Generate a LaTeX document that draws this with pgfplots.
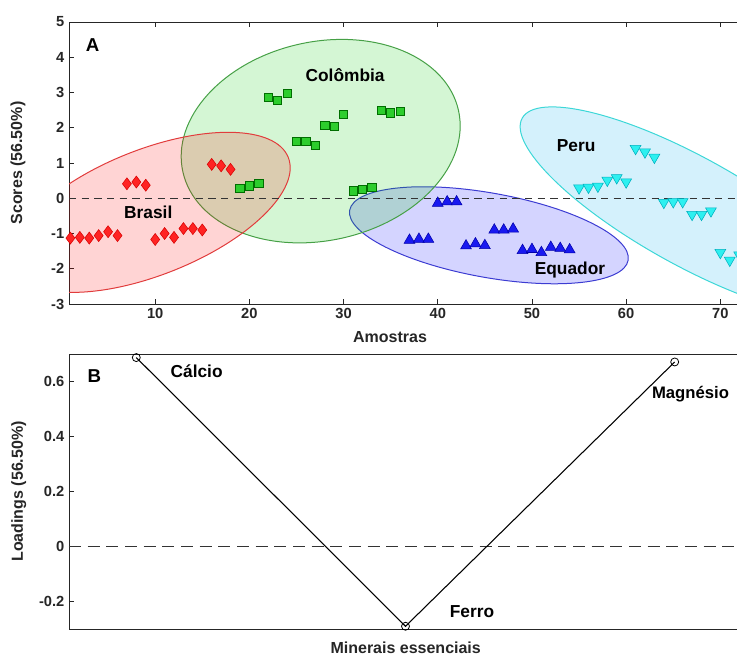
\documentclass[border=0pt]{standalone}
\usepackage{pgfplots}
\usepackage{pgfplotstable}
\pgfplotsset{compat=1.18}
\usepackage{fontspec}
\setmainfont{Liberation Sans}

\definecolor{axgray}{RGB}{38,38,38}
\definecolor{rF}{RGB}{255,35,35}\definecolor{rE}{RGB}{215,0,0}
\definecolor{gF}{RGB}{45,205,45}\definecolor{gE}{RGB}{0,110,0}
\definecolor{bF}{RGB}{25,25,240}\definecolor{bE}{RGB}{0,0,170}
\definecolor{cF}{RGB}{45,240,240}\definecolor{cE}{RGB}{0,175,190}
\definecolor{rEl}{RGB}{225,60,60}
\definecolor{gEl}{RGB}{70,160,70}
\definecolor{bEl}{RGB}{60,60,210}
\definecolor{cEl}{RGB}{60,215,215}
\definecolor{gFill}{RGB}{0,200,0}

\pgfplotstableread{
x y
1 -1.13
2 -1.11
3 -1.13
4 -1.06
5 -0.95
6 -1.06
7 0.41
8 0.46
9 0.37
10 -1.17
11 -1.00
12 -1.11
13 -0.86
14 -0.86
15 -0.90
16 0.96
17 0.92
18 0.82
}\brasil

\pgfplotstableread{
x y
19 0.28
20 0.35
21 0.43
22 2.87
23 2.78
24 2.97
25 1.61
26 1.61
27 1.51
28 2.06
29 2.03
30 2.39
31 0.21
32 0.25
33 0.31
34 2.49
35 2.42
36 2.46
}\colombia

\pgfplotstableread{
x y
37 -1.19
38 -1.16
39 -1.16
40 -0.14
41 -0.10
42 -0.10
43 -1.35
44 -1.29
45 -1.34
46 -0.90
47 -0.90
48 -0.87
49 -1.48
50 -1.45
51 -1.54
52 -1.39
53 -1.42
54 -1.46
}\equador

\pgfplotstableread{
x y
55 0.29
56 0.31
57 0.34
58 0.51
59 0.58
60 0.46
61 1.41
62 1.31
63 1.16
64 -0.12
65 -0.10
66 -0.10
67 -0.46
68 -0.46
69 -0.36
70 -1.54
71 -1.76
72 -1.61
}\peru

\pgfplotstableread{
x y
1 0.687
2 -0.290
3 0.671
}\loadings

\pgfplotsset{
  myaxis/.style={
    scale only axis,
    width=504.75pt,
    tick align=inside,
    tick pos=both,
    major tick length=4pt,
    axis line style={axgray, line width=0.6pt},
    every tick/.style={axgray, line width=0.6pt},
    tick label style={font=\bfseries\fontsize{11}{11}\selectfont, text=axgray},
    label style={font=\bfseries\fontsize{12}{12}\selectfont, text=axgray},
  }
}

\begin{document}
\begin{tikzpicture}
% ---------------- Panel A ----------------
\begin{axis}[myaxis,
  at={(51.75pt,-228pt)}, anchor=south west,
  height=211.5pt,
  xmin=0.85, xmax=72.3, ymin=-3, ymax=5,
  xtick={10,20,30,40,50,60,70},
  xticklabels={10,20,30,40,50,60,70},
  ytick={-3,-2,-1,0,1,2,3,4,5},
  yticklabels={-3,-2,-1,0,1,2,3,4,5},
  xlabel={Amostras},
  ylabel={Scores (56.50\%)},
  x label style={at={(axis description cs:0.477,-0.117)}, anchor=center},
  y label style={at={(axis description cs:-0.0757,0.5)}, anchor=center},
]
\draw[draw=cEl, fill=cyan, fill opacity=0.17, line width=0.75pt,
  rotate around={-29:(axis cs:66.79,-0.37)}]
  (axis cs:66.79,-0.37) ellipse [x radius=144pt, y radius=40.5pt];
\draw[draw=bEl, fill=blue, fill opacity=0.17, line width=0.75pt,
  rotate around={-10.2:(axis cs:45.43,-1.05)}]
  (axis cs:45.43,-1.05) ellipse [x radius=106.1pt, y radius=31.65pt];
\draw[draw=gEl, fill=gFill, fill opacity=0.17, line width=0.75pt,
  rotate around={12.6:(axis cs:27.57,1.62)}]
  (axis cs:27.57,1.62) ellipse [x radius=105.9pt, y radius=74.5pt];
\draw[draw=rEl, fill=red, fill opacity=0.17, line width=0.75pt,
  rotate around={21.7:(axis cs:9.47,-0.40)}]
  (axis cs:9.47,-0.40) ellipse [x radius=111.45pt, y radius=47pt];

\addplot[black!80, line width=0.75pt, dash pattern=on 5.5pt off 4pt] coordinates {(0.85,0) (72.3,0)};

\addplot[only marks, mark=diamond*, mark size=4.5pt, mark options={fill=rF, draw=rE, line width=0.4pt}] table[x=x,y=y]{\brasil};
\addplot[only marks, mark=square*, mark size=3.1pt, mark options={fill=gF, draw=gE, line width=0.5pt}] table[x=x,y=y]{\colombia};
\addplot[only marks, mark=triangle*, mark size=4.7pt, mark options={fill=bF, draw=bE, line width=0.4pt}] table[x=x,y=y]{\equador};
\addplot[only marks, mark=triangle*, mark size=4.7pt, mark options={fill=cF, draw=cE, line width=0.4pt, rotate=180}] table[x=x,y=y]{\peru};

\node[anchor=west, font=\bfseries\fontsize{14}{14}\selectfont] at (axis cs:2.14,4.34) {A};
\node[anchor=west, font=\bfseries\fontsize{13}{13}\selectfont] at (axis cs:25.47,3.48) {Colômbia};
\node[anchor=west, font=\bfseries\fontsize{13}{13}\selectfont] at (axis cs:6.21,-0.39) {Brasil};
\node[anchor=west, font=\bfseries\fontsize{13}{13}\selectfont] at (axis cs:49.8,-2.04) {Equador};
\node[anchor=west, font=\bfseries\fontsize{13}{13}\selectfont] at (axis cs:52.14,1.5) {Peru};
\end{axis}

% ---------------- Panel B ----------------
\begin{axis}[myaxis,
  at={(51.75pt,-471.75pt)}, anchor=south west,
  height=206.25pt,
  xmin=0.75, xmax=3.25, ymin=-0.3, ymax=0.7,
  xtick=\empty,
  ytick={-0.2,0,0.2,0.4,0.6},
  yticklabels={-0.2,0,0.2,0.4,0.6},
  xlabel={Minerais essenciais},
  ylabel={Loadings (56.50\%)},
  x label style={at={(axis description cs:0.5003,-0.0673)}, anchor=center},
  y label style={at={(axis description cs:-0.0746,0.5)}, anchor=center},
]
\addplot[black!80, line width=0.75pt, dash pattern=on 9pt off 5pt] coordinates {(0.75,0) (3.25,0)};
\addplot[black, line width=0.8pt, mark=o, mark size=3pt, mark options={line width=0.6pt, fill=white}] table[x=x,y=y]{\loadings};
\node[anchor=west, font=\bfseries\fontsize{14}{14}\selectfont] at (axis cs:0.802,0.62) {B};
\node[anchor=west, font=\bfseries\fontsize{13}{13}\selectfont] at (axis cs:1.11,0.637) {Cálcio};
\node[anchor=west, font=\bfseries\fontsize{13}{13}\selectfont] at (axis cs:2.147,-0.236) {Ferro};
\node[anchor=west, inner sep=1pt, font=\bfseries\fontsize{12.5}{12.5}\selectfont] at (axis cs:2.91,0.554) {Magnésio};
\end{axis}

\pgfresetboundingbox
\useasboundingbox (0,0) rectangle (552.75pt,-491.25pt);
\end{tikzpicture}
\end{document}
